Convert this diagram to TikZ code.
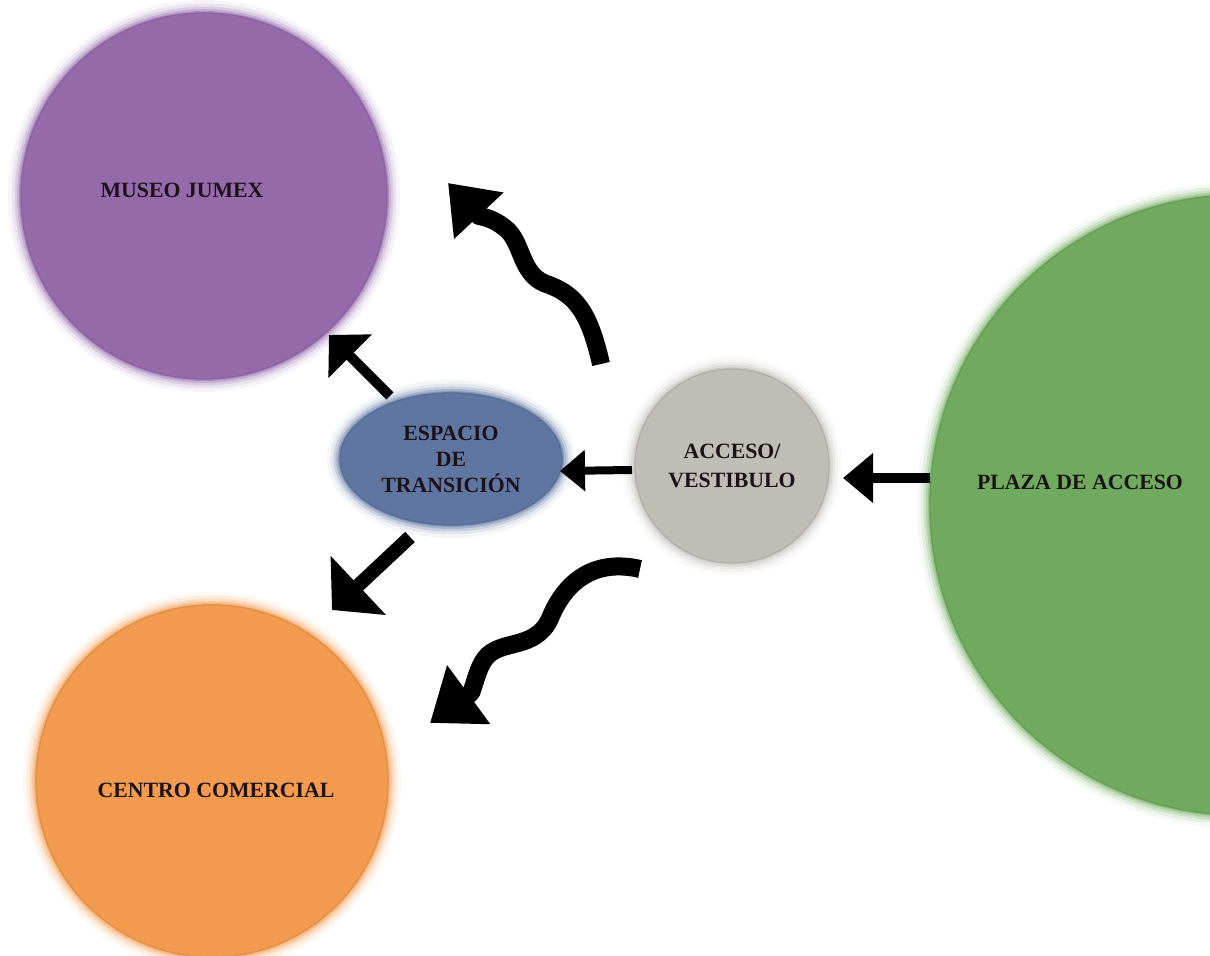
\documentclass[tikz,border=0pt]{standalone}
\usepackage{fontspec}
\setmainfont{Liberation Serif}
\usetikzlibrary{arrows.meta,shapes.geometric}
\definecolor{museoc}{HTML}{946AAB}
\definecolor{centroc}{HTML}{F29A4E}
\definecolor{plazac}{HTML}{6FAA5E}
\definecolor{accesoc}{HTML}{BFBDB6}
\definecolor{espacioc}{HTML}{5F76A2}
\definecolor{textc}{HTML}{1C1218}
\newcommand{\myhalo}[4]{%
  \foreach \d/\o in {0.26/0.07,0.19/0.12,0.13/0.2,0.08/0.3,0.04/0.45}{%
    \fill[#4,opacity=\o] (#1) ellipse [x radius={#2+\d}, y radius={#3+\d}];}}
\begin{document}
\begin{tikzpicture}[
  place/.style={circle, inner sep=0pt, fill=#1, draw=#1!93!black, line width=0.8pt},
  lbl/.style={font=\fontsize{12.4}{15.5}\selectfont\bfseries, text=textc, align=center},
  flowA/.style={draw=black, line width=#1},
]
\useasboundingbox (0,0) rectangle (24.2,19.12);
\clip (0,0) rectangle (24.2,19.12);

% halos
\myhalo{4.08,15.20}{3.66}{3.66}{museoc}
\myhalo{4.24,3.50}{3.52}{3.52}{centroc}
\myhalo{24.8,9.02}{6.2}{6.2}{plazac}
\myhalo{14.64,9.80}{1.94}{1.94}{accesoc}
\myhalo{9.02,9.94}{2.22}{1.32}{espacioc}

% places
\node[place=museoc, minimum size=7.32cm,
      label={[lbl,xshift=-0.44cm,yshift=0.12cm]center:MUSEO JUMEX}] (museo) at (4.08,15.20) {};
\node[place=centroc, minimum size=7.04cm,
      label={[lbl,xshift=0.08cm,yshift=-0.18cm]center:CENTRO COMERCIAL}] (centro) at (4.24,3.50) {};
\node[place=plazac, minimum size=12.4cm,
      label={[lbl,xshift=-3.2cm,yshift=0.46cm]center:PLAZA DE ACCESO}] (plaza) at (24.8,9.02) {};
\node[place=accesoc, minimum size=3.88cm, lbl, font=\fontsize{12.4}{16}\selectfont\bfseries] (acceso) at (14.64,9.80) {ACCESO/\\VESTIBULO};
\node[ellipse, inner sep=0pt, fill=espacioc, draw=espacioc!93!black, line width=0.8pt,
      minimum width=4.44cm, minimum height=2.64cm, lbl, font=\fontsize{12.4}{14.8}\selectfont\bfseries] (espacio) at (9.02,9.94) {ESPACIO\\DE\\TRANSICIÓN};

% connector ends
\coordinate (p1) at (18.6,9.56);
\coordinate (a1) at (16.86,9.56);
\coordinate (a2) at (12.64,9.72);
\coordinate (e1) at (11.2,9.70);
\coordinate (e2) at (7.8,11.2);
\coordinate (m1) at (6.58,12.42);
\coordinate (e3) at (8.2,8.38);
\coordinate (c1) at (6.64,6.92);
\coordinate (a3) at (12.02,11.84);
\coordinate (m2) at (8.96,15.46);
\coordinate (a4) at (12.8,7.74);
\coordinate (c2) at (8.6,4.66);

% straight arrows
\draw[flowA=0.2cm, -{Triangle[length=0.6cm,width=0.96cm]}] (p1) -- (a1);
\draw[flowA=0.16cm, -{Triangle[length=0.5cm,width=0.8cm]}] (a2) -- (e1);
\draw[flowA=0.2cm, -{Triangle[length=0.6cm,width=1.2cm]}] (e2) -- (m1);
\draw[flowA=0.28cm, -{Triangle[length=0.72cm,width=1.58cm]}] (e3) -- (c1);

% wavy arrows
\draw[flowA=0.36cm, line join=round, -{Triangle[length=0.9cm,width=1.3cm]}]
  (a3) .. controls (11.78,12.9) and (11.5,13.25) .. (10.9,13.45)
       .. controls (10.4,13.65) and (10.45,14.3) .. (10.1,14.56)
       .. controls (9.95,14.68) and (9.8,14.76) .. (9.58,14.8) -- (m2);
\draw[flowA=0.36cm, line join=round, -{Triangle[length=0.96cm,width=1.4cm]}]
  (a4) .. controls (11.9,7.95) and (11.3,7.5) .. (11.0,6.75)
       .. controls (10.7,6.1) and (10.0,6.35) .. (9.7,5.95)
       .. controls (9.55,5.75) and (9.5,5.45) .. (9.42,5.26) -- (c2);
\end{tikzpicture}
\end{document}
